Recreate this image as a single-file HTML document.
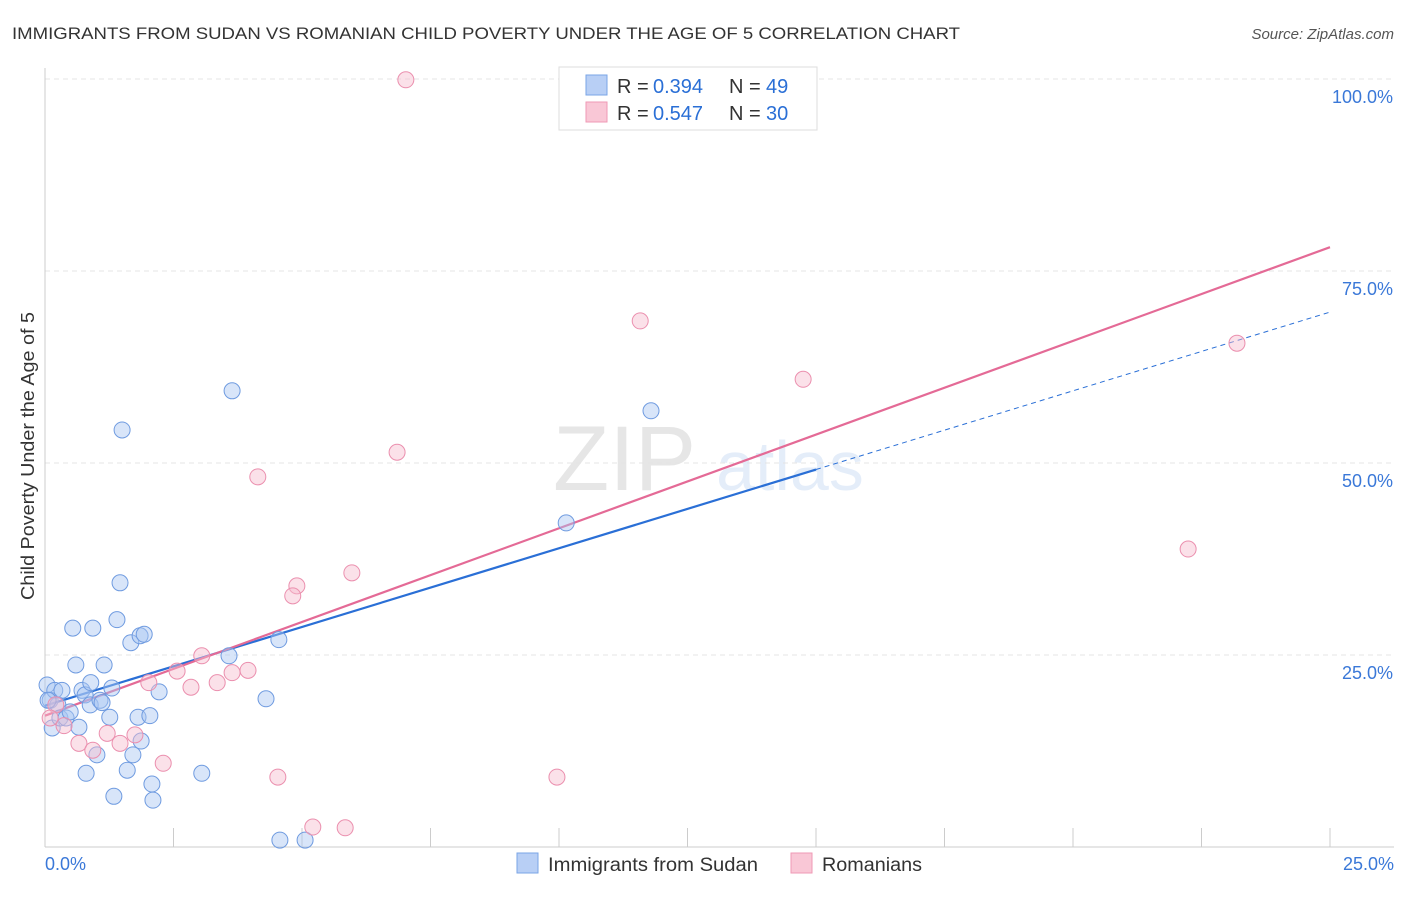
<!DOCTYPE html>
<html><head><meta charset="utf-8"><style>
body{margin:0;background:#fff;font-family:"Liberation Sans",sans-serif;}
svg text{font-family:"Liberation Sans",sans-serif;}
</style></head><body>
<svg id="chart" width="1406" height="892" xmlns="http://www.w3.org/2000/svg">
<text x="12" y="39" font-size="17" fill="#333" textLength="948" lengthAdjust="spacingAndGlyphs">IMMIGRANTS FROM SUDAN VS ROMANIAN CHILD POVERTY UNDER THE AGE OF 5 CORRELATION CHART</text>
<text x="1394" y="39" font-size="15" fill="#555" font-style="italic" text-anchor="end">Source: ZipAtlas.com</text>
<g opacity="0.18">
<text x="553" y="490" font-size="92" font-family="Liberation Serif" fill="#777">ZIP</text>
<text x="716" y="490" font-size="70" fill="#6d9ee0">atlas</text>
</g>
<g id="grid"></g><g id="axes"></g><g id="lines"></g><g id="pts"></g>
<text transform="translate(34,456) rotate(-90)" font-size="18" fill="#333" text-anchor="middle" textLength="288" lengthAdjust="spacingAndGlyphs">Child Poverty Under the Age of 5</text>
<g>
<rect x="559" y="67" width="258" height="63" fill="#fff" stroke="#ddd"/>
<rect x="586" y="75" width="21" height="20" fill="#b8cff5" stroke="#7aa4e6"/>
<rect x="586" y="102" width="21" height="20" fill="#f9c7d6" stroke="#ef9ab5"/>
<text x="617" y="93" font-size="20" fill="#333">R =</text><text x="653" y="93" font-size="20" fill="#2a6fd6">0.394</text>
<text x="729" y="93" font-size="20" fill="#333">N =</text><text x="766" y="93" font-size="20" fill="#2a6fd6">49</text>
<text x="617" y="120" font-size="20" fill="#333">R =</text><text x="653" y="120" font-size="20" fill="#2a6fd6">0.547</text>
<text x="729" y="120" font-size="20" fill="#333">N =</text><text x="766" y="120" font-size="20" fill="#2a6fd6">30</text>
</g>
<g>
<rect x="517" y="853" width="21" height="20" fill="#b8cff5" stroke="#7aa4e6"/>
<text x="548" y="871" font-size="19" fill="#333" textLength="210" lengthAdjust="spacingAndGlyphs">Immigrants from Sudan</text>
<rect x="791" y="853" width="21" height="20" fill="#f9c7d6" stroke="#ef9ab5"/>
<text x="822" y="871" font-size="19" fill="#333" textLength="100" lengthAdjust="spacingAndGlyphs">Romanians</text>
</g>
</svg>
<script>
const blueX=[0.04,0.10,0.14,0.19,0.25,0.29,0.33,0.41,0.49,0.54,0.60,0.66,0.72,0.78,0.80,0.88,0.89,0.93,1.01,1.07,1.11,1.15,1.26,1.30,1.34,1.40,1.46,1.50,1.60,1.67,1.71,1.81,1.85,1.87,1.93,2.04,2.08,2.10,2.22,3.05,3.58,3.64,4.30,4.55,4.57,5.06,10.14,11.79,0.06];
const blueY=[21.1,19.1,15.5,20.4,18.5,16.8,20.4,16.8,17.6,28.5,23.7,15.6,20.4,19.8,9.6,18.5,21.4,28.5,12.0,19.1,18.8,23.7,16.9,20.7,6.6,29.6,34.4,54.3,10.0,26.6,12.0,16.9,27.5,13.8,27.7,17.1,8.2,6.1,20.2,9.6,24.9,59.4,19.3,27.0,0.9,0.9,42.2,56.8,19.1];
const pinkX=[7.02,11.58,14.75,23.19,6.85,4.14,22.24,5.97,4.90,4.82,3.05,2.57,2.02,2.84,3.35,3.64,3.95,0.21,0.37,0.66,0.93,1.21,1.46,1.75,2.30,4.53,9.96,5.21,5.84,0.10];
const pinkY=[99.9,68.5,60.9,65.6,51.4,48.2,38.8,35.7,34.0,32.7,24.9,22.9,21.4,20.8,21.4,22.7,23.0,18.5,15.8,13.5,12.6,14.8,13.5,14.6,10.9,9.1,9.1,2.6,2.5,16.8];
const blueFit=[18.4,2.05]; const pinkFit=[17.1,2.44];
const yTicks=[25,50,75,100];
const xTicks=[0,2.5,5,7.5,10,12.5,15,17.5,20,22.5,25];
const NS='http://www.w3.org/2000/svg';
const sx=v=>45+v/25*1285, sy=v=>847-v*7.68;
function mk(t,p,a){const e=document.createElementNS(NS,t);for(const k in a)e.setAttribute(k,a[k]);p.appendChild(e);return e;}
const grid=document.getElementById('grid'),axes=document.getElementById('axes'),lines=document.getElementById('lines'),pts=document.getElementById('pts');
yTicks.forEach(t=>{const l=mk('line',grid,{x1:45,x2:1394,y1:sy(t),y2:sy(t),stroke:'#e4e4e4','stroke-dasharray':'5,4'});


const tx=mk('text',axes,{x:1393,y:sy(t)+24,'font-size':18,fill:'#3a78d8','text-anchor':'end'});tx.textContent=t.toFixed(1)+'%';

});
mk('line',axes,{x1:45,x2:45,y1:68,y2:847,stroke:'#ccc'});
mk('line',axes,{x1:45,x2:1394,y1:847,y2:847,stroke:'#ccc'});
xTicks.forEach((t,i)=>{if(i>0){const l=mk('line',axes,{x1:sx(t),x2:sx(t),y1:828,y2:847,stroke:'#ccc'});

}});
[[0,'0.0%',45,'start'],[25,'25.0%',1394,'end']].forEach(a=>{const tx=mk('text',axes,{x:a[2],y:870,'font-size':18,fill:'#3a78d8','text-anchor':a[3]});tx.textContent=a[1];

});
function pt(xs,ys,fill,stroke,name){xs.forEach((x,i)=>{const c=mk('circle',pts,{cx:sx(x),cy:sy(ys[i]),r:8,fill:fill,'fill-opacity':0.45,stroke:stroke,'stroke-width':1});

});}
pt(blueX,blueY,'#a9c6f2','#6f9be0','sudan-point');
pt(pinkX,pinkY,'#f7bccf','#eb8fae','romanian-point');
const f=(fit,x)=>fit[0]+fit[1]*x;
let l=mk('line',lines,{x1:sx(0),y1:sy(f(blueFit,0)),x2:sx(15),y2:sy(f(blueFit,15)),stroke:'#2a6fd6','stroke-width':2.2});


l=mk('line',lines,{x1:sx(15),y1:sy(f(blueFit,15)),x2:sx(25),y2:sy(f(blueFit,25)),stroke:'#2a6fd6','stroke-width':1,'stroke-dasharray':'5,4'});


l=mk('line',lines,{x1:sx(0),y1:sy(f(pinkFit,0)),x2:sx(25),y2:sy(f(pinkFit,25)),stroke:'#e46a96','stroke-width':2.2});


</script>
</body></html>
